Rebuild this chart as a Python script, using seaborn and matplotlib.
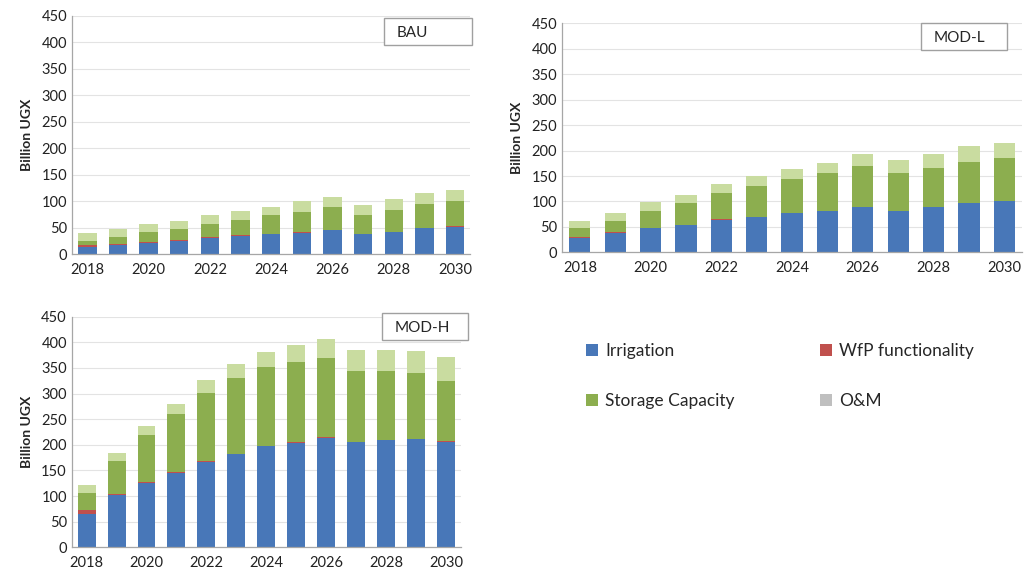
import matplotlib
matplotlib.use("Agg")
import matplotlib.pyplot as plt
from matplotlib.patches import Patch, Rectangle
import seaborn as sns
import numpy as np

years = [str(y) for y in range(2018, 2031)]

# BAU
bau_irrigation = [14, 18, 22, 26, 31, 35, 38, 41, 45, 38, 42, 49, 52]
bau_wfp = [3, 2, 1, 1, 1, 1, 1, 1, 1, 1, 1, 1, 1]
bau_storage = [9, 12, 19, 20, 25, 29, 35, 37, 43, 35, 40, 44, 47]
bau_om = [14, 16, 15, 16, 17, 16, 16, 21, 19, 19, 21, 21, 21]

# MOD-L
modl_irrigation = [28, 38, 47, 53, 64, 69, 77, 81, 89, 81, 89, 97, 101]
modl_wfp = [2, 1, 1, 0.5, 0.5, 0.5, 0.5, 0.5, 0.5, 0.5, 0.5, 0.5, 0.5]
modl_storage = [17, 23, 33, 43, 52, 61, 67, 75, 81, 74, 77, 81, 83]
modl_om = [15, 16, 18, 16, 18, 20, 20, 20, 22, 25, 27, 30, 31]

# MOD-H
modh_irrigation = [66, 102, 125, 145, 167, 182, 197, 204, 214, 205, 209, 211, 206]
modh_wfp = [6, 3, 2, 2, 1, 1, 1, 1, 1, 1, 1, 1, 1]
modh_storage = [35, 64, 93, 113, 134, 147, 154, 157, 154, 139, 135, 128, 118]
modh_om = [15, 16, 17, 20, 24, 28, 30, 33, 37, 40, 40, 44, 46]

series_names = ["Irrigation", "WfP functionality", "Storage Capacity", "O&M"]
colores = ["#4877b8", "#c0504d", "#8cae4f", "#c9dca0"]
legend_colores = ["#4877b8", "#c0504d", "#8cae4f", "#bfbfbf"]

sns.set_style("white")
plt.rcParams["font.family"] = ["Lato", "DejaVu Sans"]

fig = plt.figure(figsize=(10.24, 5.78), dpi=100)


def panel(rect, series, titulo, box):
    ax = fig.add_axes(rect)
    bottom = np.zeros(len(years))
    for vals, col in zip(series, colores):
        sns.barplot(x=years, y=vals, bottom=bottom, color=col, width=0.6,
                    saturation=1, ax=ax, linewidth=0)
        bottom = bottom + np.array(vals)
    ax.set_ylim(0, 450)
    ax.set_xlim(-0.5, 12.5)
    ax.set_yticks(range(0, 451, 50))
    ax.yaxis.grid(True, color="#e3e3e3", linewidth=0.8)
    ax.set_axisbelow(True)
    ax.set_xticks(range(0, 13, 2))
    ax.set_xticklabels(years[::2])
    ax.set_xticks(np.arange(-0.5, 13, 1), minor=True)
    ax.tick_params(axis="x", which="major", length=0, labelsize=10.5, colors="#222222", pad=6)
    ax.tick_params(axis="x", which="minor", length=4, color="#999999", direction="out")
    ax.tick_params(axis="y", length=0, labelsize=10.5, colors="#222222")
    for s in ["top", "right"]:
        ax.spines[s].set_visible(False)
    for s in ["left", "bottom"]:
        ax.spines[s].set_color("#a6a6a6")
        ax.spines[s].set_linewidth(0.9)
    ax.set_xlabel("")
    ax.set_ylabel("Billion UGX", fontsize=10, fontweight="bold", labelpad=6)
    bx, by, bw, bh = box
    fig.patches.append(Rectangle((bx, by), bw, bh, transform=fig.transFigure,
                                 facecolor="white", edgecolor="#a0a0a0", linewidth=1))
    fig.text(bx + 0.012, by + bh / 2 - 0.002, titulo, fontsize=11, va="center", ha="left")
    return ax


panel([0.0703, 0.560, 0.389, 0.413],
      [bau_irrigation, bau_wfp, bau_storage, bau_om], "BAU",
      (384 / 1024, 1 - 45 / 578, 88 / 1024, 27 / 578))
panel([0.549, 0.5635, 0.449, 0.396],
      [modl_irrigation, modl_wfp, modl_storage, modl_om], "MOD-L",
      (921 / 1024, 1 - 50 / 578, 86 / 1024, 27 / 578))
panel([0.070, 0.053, 0.380, 0.399],
      [modh_irrigation, modh_wfp, modh_storage, modh_om], "MOD-H",
      (382 / 1024, 1 - 340 / 578, 86 / 1024, 27 / 578))

handles = [Patch(facecolor=c, edgecolor="none") for c in legend_colores]
order = [0, 2, 1, 3]
fig.legend([handles[i] for i in order], [series_names[i] for i in order],
           ncol=2, loc="upper left", bbox_to_anchor=(0.557, 0.433),
           frameon=False, fontsize=12.5, handlelength=0.7, handleheight=0.7,
           handletextpad=0.4, labelspacing=1.95, columnspacing=4.9)

plt.savefig("out.png", dpi=100)
